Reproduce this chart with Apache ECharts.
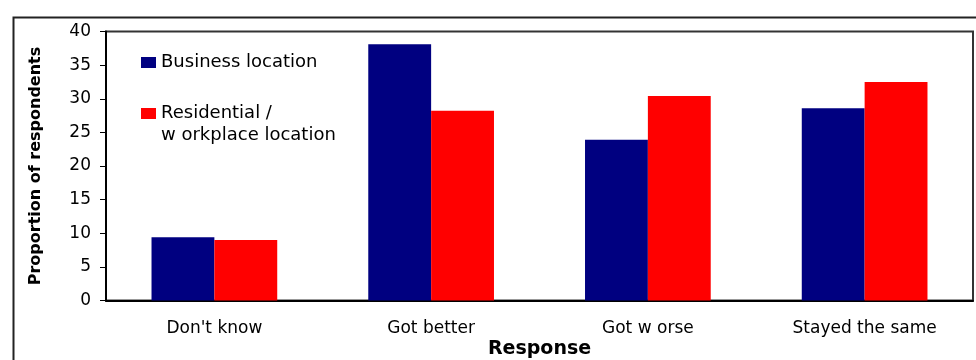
<!DOCTYPE html>
<html>
<head>
<meta charset="utf-8">
<script src="https://cdn.jsdelivr.net/npm/echarts@6/dist/echarts.min.js"></script>
<style>
  html, body { margin: 0; padding: 0; background: #fff; }
  #chart { width: 976px; height: 360px; }
</style>
</head>
<body>
<div id="chart"></div>
<script>
// 数据
var categories = ["Don't know", 'Got better', 'Got w orse', 'Stayed the same'];
var seriesNames = ['Business location', 'Residential /\nw orkplace location'];
var businessValues = [9.4, 38.1, 23.9, 28.6];
var residentialValues = [9.0, 28.2, 30.4, 32.5];
var yTicks = [0, 5, 10, 15, 20, 25, 30, 35, 40];
var colors = ['#000080', '#ff0000'];

var font = 'DejaVu Sans';
var myChart = echarts.init(document.getElementById('chart'));

// 图例样式
function legendOf(name, top){
    return {
        data: [name],
        orient: 'vertical',
        left: 141,
        top: top,
        padding: 0,
        itemWidth: 15,
        itemHeight: 11,
        icon: 'rect',
        // 多行文字时让图标对齐第一行
        formatter: function(n){
            return n.indexOf('\n') >= 0 ? '\n' + n : n;
        },
        textStyle: { fontFamily: font, fontSize: 18, color: '#000', lineHeight: 22 }
    };
}

var option = {
    color: colors,
    animation: false,
    grid: {
        left: 106,
        right: 3,
        top: 31.5,
        bottom: 59.5,
        outerBoundsMode: 'none',
        containLabel: false,
        show: true,
        borderColor: '#333',
        borderWidth: 2,
        backgroundColor: '#fff'
    },
    // 外框
    graphic: [{
        type: 'rect',
        left: 11,
        top: 15,
        shape: { width: 990, height: 380 },
        style: { fill: null, stroke: '#222', lineWidth: 2 },
        z: -1
    }],
    legend: [legendOf(seriesNames[0], 51.5), legendOf(seriesNames[1], 80.5)],
    xAxis: {
        type: 'category',
        data: categories,
        name: 'Response',
        nameLocation: 'middle',
        nameGap: 39,
        nameMoveOverlap: false,
        nameTextStyle: { fontFamily: font, fontSize: 19, fontWeight: 'bold', color: '#000' },
        axisLine: { lineStyle: { color: '#000', width: 2 } },
        axisTick: { length: 5, lineStyle: { color: '#000' } },
        axisLabel: { fontFamily: font, fontSize: 17, color: '#000', margin: 20 }
    },
    yAxis: {
        type: 'value',
        min: yTicks[0],
        max: yTicks[yTicks.length - 1],
        interval: yTicks[1] - yTicks[0],
        name: 'Proportion of respondents',
        nameLocation: 'middle',
        nameGap: 62,
        nameMoveOverlap: false,
        nameTextStyle: { fontFamily: font, fontSize: 16, fontWeight: 'bold', color: '#000' },
        axisLine: { show: true, lineStyle: { color: '#000', width: 2 } },
        axisTick: { show: true, length: 6, lineStyle: { color: '#000' } },
        splitLine: { show: false },
        axisLabel: { fontFamily: font, fontSize: 17, color: '#000', margin: 15 }
    },
    series: [{
        name: seriesNames[0],
        type: 'bar',
        data: businessValues,
        barWidth: '29%',
        barGap: '0%'
    }, {
        name: seriesNames[1],
        type: 'bar',
        data: residentialValues,
        barWidth: '29%',
        barGap: '0%'
    }]
};
myChart.setOption(option);
</script>
</body>
</html>
